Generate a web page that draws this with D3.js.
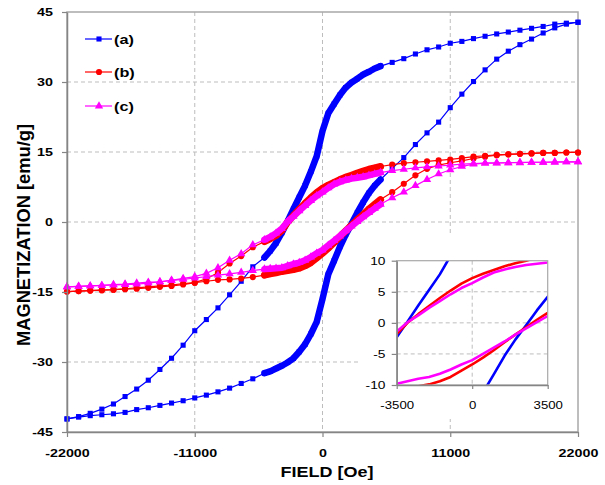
<!DOCTYPE html>
<html>
<head>
<meta charset="utf-8">
<script src="https://cdn.jsdelivr.net/npm/d3@7"></script>
<style>
  html, body { margin: 0; padding: 0; background: #fff; }
  svg { display: block; }
</style>
</head>
<body>
<svg id="chart" width="605" height="485"></svg>
<script>
// Applied field (Oe): descending sweep and ascending sweep.
const fieldDown = [22000,21000,20000,19000,18000,17000,16000,15000,14000,13000,12000,11000,10000,9000,8000,7000,6000,
  5000,4500,4000,3500,3000,2500,2000,1500,1000,500,0,-500,-1000,-1500,-2000,-2500,-3000,-3500,-4000,-4500,-5000,
  -6000,-7000,-8000,-9000,-10000,-11000,-12000,-13000,-14000,-15000,-16000,-17000,-18000,-19000,-20000,-21000,-22000];
const fieldUp = [-22000,-21000,-20000,-19000,-18000,-17000,-16000,-15000,-14000,-13000,-12000,-11000,-10000,-9000,-8000,-7000,-6000,
  -5000,-4500,-4000,-3500,-3000,-2500,-2000,-1500,-1000,-500,0,500,1000,1500,2000,2500,3000,3500,4000,4500,5000,
  6000,7000,8000,9000,10000,11000,12000,13000,14000,15000,16000,17000,18000,19000,20000,21000,22000];

// Magnetization (emu/g), sample (a)
const aDown = [42.8,42.6,42.4,41.9,41.5,41.1,40.7,40.3,39.8,39.3,38.7,38.3,37.5,36.9,36.0,35.0,34.2,
  33.4,32.9,32.2,31.6,30.7,29.9,28.8,27.2,25.3,23.3,19.5,14.1,10.8,7.8,5.3,2.8,0.2,-2.3,-4.5,-6.2,-7.6,
  -9.6,-12.7,-15.6,-18.4,-20.9,-23.3,-26.4,-29.2,-31.6,-33.9,-35.8,-37.4,-39.0,-40.1,-41.0,-41.7,-42.2];
const aUp = [-42.2,-41.8,-41.5,-41.3,-41.1,-40.8,-40.2,-39.8,-39.3,-38.8,-38.3,-37.7,-37.1,-36.4,-35.6,-34.6,-33.6,
  -32.4,-32.0,-31.4,-30.8,-30.1,-29.2,-27.8,-26.2,-24.0,-21.4,-16.5,-11.2,-8.3,-5.3,-2.7,-0.4,2.0,4.2,6.2,7.8,9.1,
  11.5,13.8,16.6,19.1,21.4,24.5,27.4,30.1,32.6,34.9,36.6,38.0,39.2,40.5,41.6,42.4,42.8];

// Magnetization (emu/g), sample (b)
const bDown = [14.9,14.9,14.8,14.8,14.7,14.6,14.5,14.4,14.2,14.0,13.7,13.4,13.2,13.0,12.8,12.6,12.3,
  11.9,11.6,11.3,10.9,10.5,10.0,9.6,9.1,8.5,7.9,7.2,6.3,5.2,4.0,2.7,1.4,0.0,-1.8,-2.9,-3.6,-4.2,
  -5.4,-7.3,-8.9,-10.8,-12.2,-13.0,-13.4,-13.7,-13.9,-14.1,-14.3,-14.4,-14.5,-14.6,-14.7,-14.8,-14.9];
const bUp = [-14.9,-14.8,-14.7,-14.6,-14.5,-14.3,-14.1,-13.9,-13.7,-13.5,-13.2,-13.0,-12.7,-12.4,-12.3,-12.1,-11.8,
  -11.4,-11.1,-10.9,-10.6,-10.4,-10.2,-9.9,-9.4,-8.7,-7.7,-6.7,-5.6,-4.4,-3.1,-1.9,-0.7,0.5,1.6,2.8,3.8,4.8,
  6.4,8.2,10.0,11.4,12.2,12.7,13.1,13.6,14.0,14.3,14.5,14.6,14.7,14.8,14.8,14.9,14.9];

// Magnetization (emu/g), sample (c)
const cDown = [12.9,12.9,12.8,12.8,12.8,12.7,12.7,12.6,12.6,12.5,12.4,12.2,12.0,11.8,11.6,11.3,11.0,
  10.6,10.3,10.0,9.7,9.5,9.3,9.0,8.6,8.1,7.3,6.4,5.6,4.6,3.5,2.4,1.2,0.1,-1.4,-2.4,-3.2,-3.8,
  -4.9,-6.8,-8.2,-9.8,-11.0,-11.7,-12.1,-12.5,-12.8,-13.1,-13.3,-13.4,-13.5,-13.6,-13.7,-13.8,-13.9];
const cUp = [-13.9,-13.8,-13.7,-13.6,-13.4,-13.3,-13.1,-12.9,-12.8,-12.5,-12.3,-12.0,-11.7,-11.4,-11.1,-10.8,-10.4,
  -10.1,-10.0,-9.9,-9.8,-9.4,-9.0,-8.7,-8.2,-7.5,-6.7,-6.0,-5.0,-4.0,-3.0,-1.9,-0.9,0.1,1.1,2.0,2.9,3.8,
  5.2,6.4,7.8,9.1,10.3,11.2,11.9,12.4,12.6,12.7,12.7,12.8,12.8,12.8,12.9,12.9,12.9];

const seriesNames = ["(a)", "(b)", "(c)"];
const xTicks = [-22000, -11000, 0, 11000, 22000];
const yTicks = [-45, -30, -15, 0, 15, 30, 45];
const insetXTicks = [-3500, 0, 3500];
const insetYTicks = [-10, -5, 0, 5, 10];

const series = [
  { name: seriesNames[0], color: "#0000ff", symbol: d3.symbolSquare,   size: 26, band: 6.5, down: aDown, up: aUp },
  { name: seriesNames[1], color: "#ff0000", symbol: d3.symbolCircle,   size: 30, band: 7,   down: bDown, up: bUp },
  { name: seriesNames[2], color: "#ff00ff", symbol: d3.symbolTriangle, size: 30, band: 6.5, down: cDown, up: cUp }
];

const svg = d3.select("#chart");
const FONT = "'Liberation Sans', Arial, sans-serif";
const SX = 1.3;   // horizontal stretch of the lettering
const plain = d => String(d);   // "-22000", no grouping, ASCII minus

const P = { left: 67, right: 578, top: 12, bottom: 432 };
const x = d3.scaleLinear().domain([-22000, 22000]).range([P.left, P.right]);
const y = d3.scaleLinear().domain([-45, 45]).range([P.bottom, P.top]);

svg.append("rect").attr("width", 605).attr("height", 485).attr("fill", "#fff");

// gridlines
const grid = svg.append("g").attr("stroke", "#bdbdbd").attr("stroke-dasharray", "4,3").attr("stroke-width", 1);
yTicks.filter(v => v > -45 && v < 45).forEach(v => {
  grid.append("line").attr("x1", P.left).attr("x2", P.right).attr("y1", y(v)).attr("y2", y(v));
});
xTicks.filter(v => v > -22000 && v < 22000).forEach(v => {
  grid.append("line").attr("y1", P.top).attr("y2", P.bottom).attr("x1", x(v)).attr("x2", x(v));
});

// plot frame
svg.append("rect").attr("x", P.left).attr("y", P.top)
  .attr("width", P.right - P.left).attr("height", P.bottom - P.top)
  .attr("fill", "none").attr("stroke", "#a8a8a8").attr("stroke-width", 1.5);

function branches(s) {
  return [
    fieldDown.map((f, i) => [f, s.down[i]]),
    fieldUp.map((f, i) => [f, s.up[i]])
  ];
}

// data curves: thin connecting line, dense central band, markers
series.forEach(s => {
  const g = svg.append("g");
  const line = d3.line().x(d => x(d[0])).y(d => y(d[1]));
  branches(s).forEach(pts => {
    g.append("path").attr("d", line(pts)).attr("fill", "none")
      .attr("stroke", s.color).attr("stroke-width", 1.2);
    const dense = pts.filter(d => Math.abs(d[0]) <= 5000);
    g.append("path").attr("d", line(dense)).attr("fill", "none")
      .attr("stroke", s.color).attr("stroke-width", s.band)
      .attr("stroke-linejoin", "round").attr("stroke-linecap", "round");
    g.selectAll(null).data(pts).join("path")
      .attr("transform", d => `translate(${x(d[0])},${y(d[1])})`)
      .attr("d", d3.symbol().type(s.symbol).size(s.size))
      .attr("fill", s.color);
  });
});

// axes
function styleAxis(g) {
  g.selectAll("path.domain").attr("stroke", "#858585").attr("stroke-width", 1.5);
  g.selectAll(".tick line").attr("stroke", "#858585").attr("stroke-width", 1.2);
}
const yAxis = svg.append("g").attr("transform", `translate(${P.left},0)`)
  .call(d3.axisLeft(y).tickValues(yTicks).tickFormat(plain).tickSize(5).tickSizeOuter(0).tickPadding(5.8));
styleAxis(yAxis);
yAxis.selectAll("text").attr("transform", `scale(${SX},1)`)
  .attr("font-family", FONT).attr("font-weight", "bold").attr("font-size", 11).attr("fill", "#000");

const xAxis = svg.append("g").attr("transform", `translate(0,${P.bottom})`)
  .call(d3.axisBottom(x).tickValues(xTicks).tickFormat(plain).tickSize(5).tickSizeOuter(0).tickPadding(12));
styleAxis(xAxis);
xAxis.selectAll("text").attr("transform", `scale(${SX},1)`)
  .attr("font-family", FONT).attr("font-weight", "bold").attr("font-size", 11).attr("fill", "#000");

// axis titles
svg.append("text")
  .attr("transform", `translate(327,477) scale(1.2,1)`)
  .attr("text-anchor", "middle").attr("font-family", FONT).attr("font-weight", "bold")
  .attr("font-size", 15).text("FIELD [Oe]");
svg.append("text")
  .attr("transform", `translate(30,235) scale(1.3,1) rotate(-90)`)
  .attr("text-anchor", "middle").attr("font-family", FONT).attr("font-weight", "bold")
  .attr("font-size", 14).attr("textLength", 222).attr("lengthAdjust", "spacingAndGlyphs")
  .text("MAGNETIZATION [emu/g]");

// legend
const legendY = [39, 72, 106];
series.forEach((s, i) => {
  const ly = legendY[i];
  svg.append("line").attr("x1", 85).attr("x2", 112).attr("y1", ly).attr("y2", ly)
    .attr("stroke", s.color).attr("stroke-width", 1.2);
  svg.append("path").attr("transform", `translate(99,${ly})`)
    .attr("d", d3.symbol().type(s.symbol).size(s.size)).attr("fill", s.color);
  svg.append("text").attr("transform", `translate(114,${ly + 4.5}) scale(1.25,1)`)
    .attr("font-family", FONT).attr("font-weight", "bold").attr("font-size", 13).text(s.name);
});

// inset: central part of the loops
const I = { left: 396.7, right: 547.7, top: 260.7, bottom: 385 };
const xi = d3.scaleLinear().domain([-3500, 3500]).range([I.left, I.right]);
const yi = d3.scaleLinear().domain([-10, 10]).range([I.bottom, I.top]);
const inset = svg.append("g");
inset.append("rect").attr("x", 360).attr("y", 236).attr("width", 216).attr("height", 183).attr("fill", "#fff");

const igrid = inset.append("g").attr("stroke", "#bdbdbd").attr("stroke-dasharray", "4,3");
insetYTicks.filter(v => v > -10 && v < 10).forEach(v => {
  igrid.append("line").attr("x1", I.left).attr("x2", I.right).attr("y1", yi(v)).attr("y2", yi(v));
});
insetXTicks.filter(v => v > -3500 && v < 3500).forEach(v => {
  igrid.append("line").attr("y1", I.top).attr("y2", I.bottom).attr("x1", xi(v)).attr("x2", xi(v));
});

svg.append("defs").append("clipPath").attr("id", "insetClip")
  .append("rect").attr("x", I.left).attr("y", I.top)
  .attr("width", I.right - I.left).attr("height", I.bottom - I.top);

const icurves = inset.append("g").attr("clip-path", "url(#insetClip)");
series.forEach(s => {
  const line = d3.line().x(d => xi(d[0])).y(d => yi(d[1]));
  branches(s).forEach(pts => {
    icurves.append("path").attr("d", line(pts)).attr("fill", "none")
      .attr("stroke", s.color).attr("stroke-width", 2.6).attr("stroke-linejoin", "round");
  });
});

inset.append("rect").attr("x", I.left).attr("y", I.top)
  .attr("width", I.right - I.left).attr("height", I.bottom - I.top)
  .attr("fill", "none").attr("stroke", "#a8a8a8").attr("stroke-width", 1.2);

const iy = inset.append("g").attr("transform", `translate(${I.left},0)`)
  .call(d3.axisLeft(yi).tickValues(insetYTicks).tickFormat(plain).tickSize(5).tickSizeOuter(0).tickPadding(4));
styleAxis(iy);
iy.selectAll("text").attr("transform", `scale(1.25,1)`)
  .attr("font-family", FONT).attr("font-size", 11).attr("fill", "#000");
const ix = inset.append("g").attr("transform", `translate(0,${I.bottom})`)
  .call(d3.axisBottom(xi).tickValues(insetXTicks).tickFormat(plain).tickSize(4).tickSizeOuter(0).tickPadding(12));
styleAxis(ix);
ix.selectAll("text").attr("transform", `scale(1.2,1)`)
  .attr("font-family", FONT).attr("font-size", 11).attr("fill", "#000");
</script>
</body>
</html>
